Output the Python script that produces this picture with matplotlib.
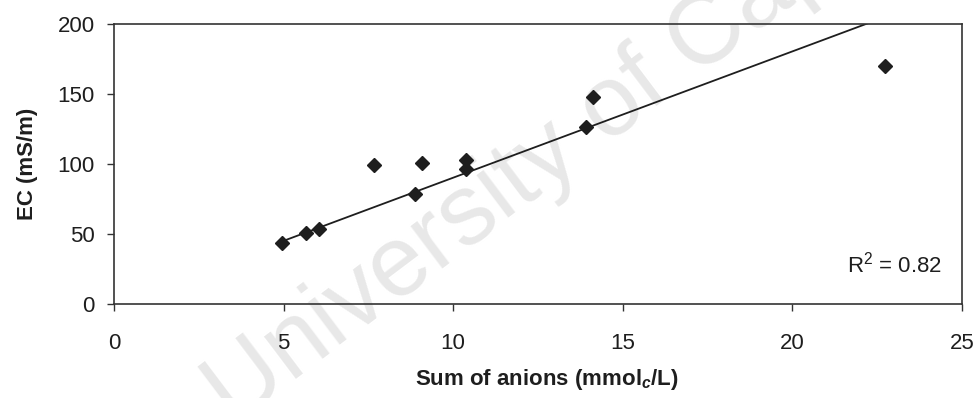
#!/usr/bin/env python3
"""Scatter of EC vs sum of anions with a trendline through the origin."""
import numpy as np
import matplotlib
matplotlib.use("Agg")
import matplotlib.pyplot as plt

# data
sum_anions = [4.94, 5.66, 6.05, 7.67, 8.87, 9.08, 10.39, 10.39, 13.93, 14.13, 22.72]
ec_values = [43.3, 50.5, 53.3, 99.3, 78.4, 101.0, 103.0, 96.4, 126.2, 148.0, 170.0]
x_ticks = [0, 5, 10, 15, 20, 25]
y_ticks = [0, 50, 100, 150, 200]
r2_label = "R$^2$ = 0.82"

plt.rcParams["font.family"] = ["Liberation Sans", "DejaVu Sans"]
plt.rcParams["mathtext.fontset"] = "custom"
plt.rcParams["mathtext.rm"] = "Liberation Sans"
plt.rcParams["mathtext.it"] = "Liberation Sans:italic:bold"
plt.rcParams["mathtext.bf"] = "Liberation Sans:bold"

ink = "#1e1e1e"

fig = plt.figure(figsize=(9.79, 3.98), dpi=100)
ax = fig.add_axes([0.1164, 0.2362, 0.8662, 0.7035])
ax.set_facecolor("none")

# watermark, drawn under the axes
fig.text(0.238, -0.07, "University of Cape Town", fontsize=72, color="#e8e8e8",
         rotation=37, rotation_mode="anchor", ha="left", va="baseline", zorder=-1)

# linear trendline forced through zero
x = np.array(sum_anions)
y = np.array(ec_values)
slope = np.sum(x * y) / np.sum(x * x)
xs = np.array([x.min(), x.max()])
ax.plot(xs, slope * xs, color=ink, lw=1.3, zorder=2)

ax.plot(sum_anions, ec_values, linestyle="none", marker="D", markersize=7,
        color=ink, markeredgecolor=ink, zorder=3)

ax.set_xlim(0, 25)
ax.set_ylim(0, 200)
ax.set_xticks(x_ticks)
ax.set_yticks(y_ticks)
ax.tick_params(axis="x", direction="out", length=5, width=1, color="#333333",
               labelsize=16, pad=16, labelcolor=ink)
ax.tick_params(axis="y", direction="out", length=5, width=1, color="#333333",
               labelsize=16, pad=9, labelcolor=ink)
for s in ax.spines.values():
    s.set_color("#333333")
    s.set_linewidth(1.2)

ax.set_xlabel("Sum of anions (mmol$_c$/L)", fontsize=16, fontweight="bold", color=ink)
ax.set_ylabel("EC (mS/m)", fontsize=16, fontweight="bold", color=ink)
ax.xaxis.set_label_coords(0.51, -0.225)
ax.yaxis.set_label_coords(-0.09, 0.5)

ax.text(0.976, 0.114, r2_label, transform=ax.transAxes, ha="right", va="baseline",
        fontsize=16, color=ink)

fig.savefig("out.png", dpi=100)
